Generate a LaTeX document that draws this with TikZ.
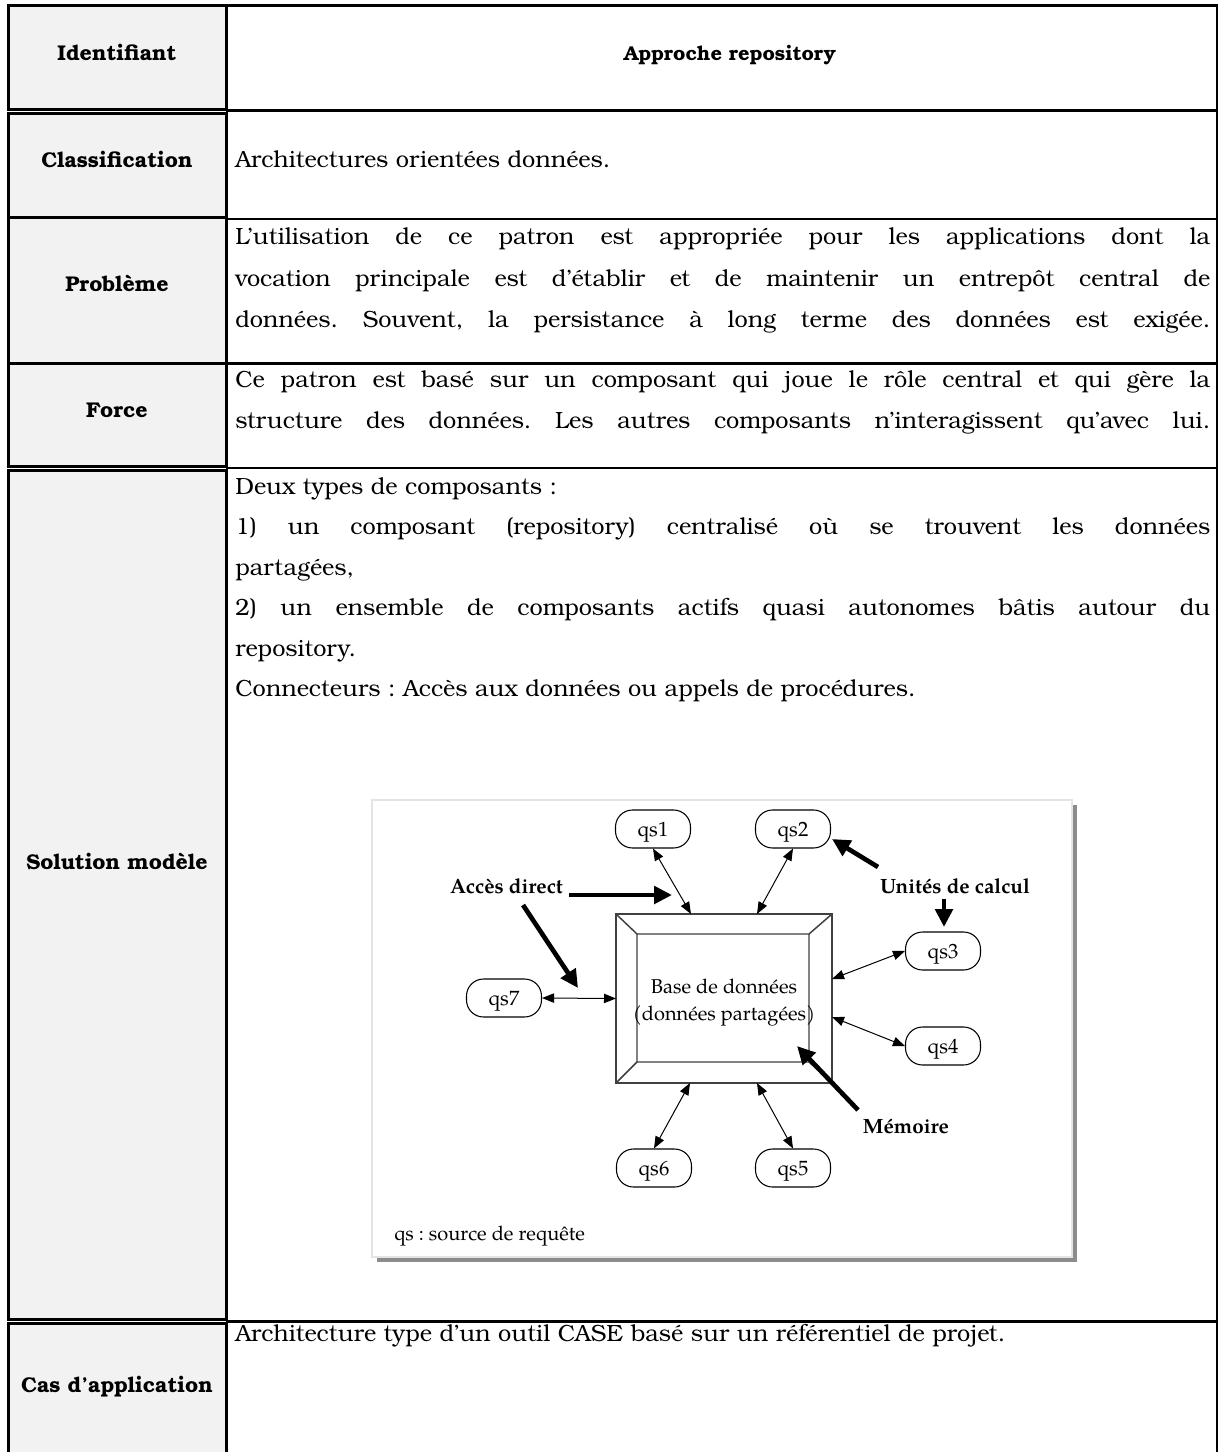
\documentclass[tikz,border=0pt]{standalone}
\usepackage{fontspec}
\setmainfont{texgyrebonum}[Extension=.otf, UprightFont=*-regular, BoldFont=*-bold, ItalicFont=*-italic, BoldItalicFont=*-bolditalic]
\newfontfamily\garafont{texgyrepagella}[Extension=.otf, UprightFont=*-regular, BoldFont=*-bold]
\usetikzlibrary{arrows.meta,calc}
\frenchspacing

\definecolor{cellgray}{HTML}{F2F2F2}
\definecolor{boxline}{HTML}{404040}
\definecolor{framegray}{HTML}{E4E4E4}
\definecolor{shadowgray}{HTML}{8C8C8C}

\newcommand{\bodysize}{\fontsize{17.6}{31}\selectfont}
\newcommand{\headsize}{\fontsize{16}{19}\selectfont\bfseries}
\newcommand{\jline}[1]{\makebox[731.25pt][s]{#1}}

\begin{document}
\begin{tikzpicture}[x=0.75pt, y=-0.75pt,
  cell/.style={draw=black, fill=cellgray, line width=2.25pt},
  rule/.style={draw=black, line width=1.9pt},
  head/.style={font=\headsize, anchor=base, inner sep=0},
  body/.style={font=\bodysize, anchor=base west, inner sep=0},
  qs/.style={draw, rounded corners=12.75pt, minimum width=56.25pt, minimum height=28.5pt,
    inner sep=0, line width=0.8pt, text height=11pt, text depth=0.5pt,
    font=\garafont\fontsize{15.5}{18}\selectfont},
  dbbox/.style={draw=boxline, line width=1.1pt, minimum width=162pt, minimum height=126.75pt,
    inner sep=0, outer sep=0},
  dbtext/.style={align=center, inner sep=0, font=\garafont\fontsize{15}{20.25}\selectfont},
  link/.style={{Triangle[length=9pt,width=7pt]}-{Triangle[length=9pt,width=7pt]}, line width=0.75pt},
  pointer/.style={-{Triangle[length=13.5pt,width=13pt]}, line width=3.5pt},
  tag/.style={font=\garafont\bfseries\fontsize{15.5}{19}\selectfont, anchor=base, inner sep=0},
]
\useasboundingbox (0,0) rectangle (1220,1452);
\fill[white] (0,0) rectangle (1220,1452);

% ---------- table frame ----------
\draw[rule] (7,5.3) -- (1217,5.3);
\draw[rule] (1217,4.4) -- (1217,1460);
\foreach \yy in {110.7,219,363.5,468,1321.3}
  \draw[rule] (226,\yy) -- (1217,\yy);

% left column cells
\draw[cell] (8.7,5.3) rectangle (226.3,109.6);
\draw[cell] (8.7,113.9) rectangle (226.3,217.6);
\draw[cell] (8.7,217.6) rectangle (226.3,363.3);
\draw[cell] (8.7,363.3) rectangle (226.3,466.3);
\draw[cell] (8.7,470.6) rectangle (226.3,1319.3);
\draw[cell] (8.7,1323.6) rectangle (226.3,1470);

% left column headings
\node[head] (hId)    at (117,61)   {Identifiant};
\node[head] (hClass) at (117,168)  {Classification};
\node[head] (hProb)  at (117,291.5){Problème};
\node[head] (hForce) at (117,417)  {Force};
\node[head] (hSol)   at (117,869)  {Solution modèle};
\node[head] (hCas)   at (117,1392) {Cas d’application};
\node[head, font=\fontsize{15}{18}\selectfont\bfseries] (hName) at (730,60.5) {Approche repository};

% right column text
\node[body] (tClass) at (235,167) {Architectures orientées données.};

\node[body] (tP1) at (235,244.5) {\jline{L’utilisation de ce patron est appropriée pour les applications dont la}};
\node[body] (tP2) at (235,286) {\jline{vocation principale est d’établir et de maintenir un entrepôt central de}};
\node[body] (tP3) at (235,327) {\jline{données. Souvent, la persistance à long terme des données est exigée.}};

\node[body] (tF1) at (235,387) {\jline{Ce patron est basé sur un composant qui joue le rôle central et qui gère la}};
\node[body] (tF2) at (235,428.5) {\jline{structure des données. Les autres composants n’interagissent qu’avec lui.}};

\node[body] (tS1) at (235,494) {Deux types de composants :};
\node[body] (tS2) at (235,534.5) {\jline{1) un composant (repository) centralisé où se trouvent les données}};
\node[body] (tS3) at (235,575) {partagées,};
\node[body] (tS4) at (235,615.5) {\jline{2) un ensemble de composants actifs quasi autonomes bâtis autour du}};
\node[body] (tS5) at (235,656) {repository.};
\node[body] (tS6) at (235,696.5) {Connecteurs : Accès aux données ou appels de procédures.};

\node[body] (tCas) at (235,1341.5) {Architecture type d’un outil CASE basé sur un référentiel de projet.};

% ---------- repository diagram ----------
\fill[shadowgray] (377,805) rectangle (1077,1262);
\draw[framegray, fill=white, line width=1.1pt] (372,800) rectangle (1072,1257);

\node[dbbox] (db) at (724,998.5) {};
\draw[boxline, line width=1.1pt]
  ($(db.north west)+(21,20)$) rectangle ($(db.south east)+(-23,-21)$)
  (db.north west) -- ++(21,20)
  (db.north east) -- ++(-23,20)
  (db.south west) -- ++(21,-21)
  (db.south east) -- ++(-23,-21);
\node[dbtext] (dblabel) at ($(db.center)+(0,4)$) {Base de données\\(données partagées)};

\node[qs] (qs1) at (653,829)  {qs1};
\node[qs] (qs2) at (793,829)  {qs2};
\node[qs] (qs3) at (943,951)  {qs3};
\node[qs] (qs4) at (943,1046) {qs4};
\node[qs] (qs5) at (793,1168) {qs5};
\node[qs] (qs6) at (654,1168) {qs6};
\node[qs] (qs7) at (504,998)  {qs7};

\draw[link] (qs1.south) -- ($(db.north west)+(75,0)$);
\draw[link] (qs2.south) -- ($(db.north west)+(141,0)$);
\draw[link] (qs3.west)  -- ($(db.north east)+(0,65)$);
\draw[link] (qs4.west)  -- ($(db.north east)+(0,103)$);
\draw[link] (qs5.north) -- ($(db.south west)+(141,0)$);
\draw[link] (qs6.north) -- ($(db.south west)+(74,0)$);
\draw[link] (qs7.east)  -- (db.west);

\node[tag] (acces)   at (506.5,893) {Accès direct};
\node[tag] (unites)  at (955,893)   {Unités de calcul};
\node[tag] (memoire) at (906,1133)  {Mémoire};
\node[anchor=base west, inner sep=0, font=\garafont\fontsize{15}{18}\selectfont]
  (legend) at (394,1240) {qs : source de requête};

\coordinate (accesA) at (569,895);
\coordinate (accesB) at (672,895);
\coordinate (accesC) at (523,905);
\coordinate (accesD) at (578,988);
\coordinate (unitesA) at (878,867);
\coordinate (unitesB) at (832,839);
\coordinate (unitesC) at (944,899);
\coordinate (unitesD) at (944,927);
\coordinate (memA) at (858,1110);
\coordinate (memB) at (797,1046);

\draw[pointer] (accesA) -- (accesB);
\draw[pointer] (accesC) -- (accesD);
\draw[pointer] (unitesA) -- (unitesB);
\draw[pointer] (unitesC) -- (unitesD);
\draw[pointer] (memA) -- (memB);
\end{tikzpicture}
\end{document}
